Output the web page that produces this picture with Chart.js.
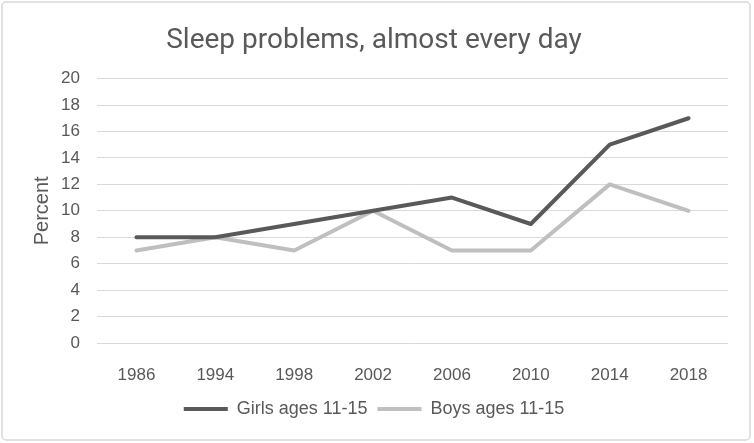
<!DOCTYPE html>
<html>
<head>
<meta charset="utf-8">
<script src="https://cdn.jsdelivr.net/npm/chart.js@4/dist/chart.umd.min.js"></script>
<style>
  html, body { margin: 0; padding: 0; background: #fff; }
  #wrap { position: relative; width: 754px; height: 443px; }
</style>
</head>
<body>
<div id="wrap"><canvas id="chart"></canvas></div>
<script>
// --- Data ---
const years = ['1986', '1994', '1998', '2002', '2006', '2010', '2014', '2018'];
const girls = [8, 8, 9, 10, 11, 9, 15, 17];
const boys = [7, 8, 7, 10, 7, 7, 12, 10];

const textColor = '#595959';
const gridColor = '#d9d9d9';
const baseFont = "'Liberation Sans', 'Noto Sans', sans-serif";

// Light rounded frame around the whole chart
const framePlugin = {
    id: 'frame',
    beforeDraw(chart) {
        const ctx = chart.ctx;
        ctx.save();
        ctx.strokeStyle = '#d9d9d9';
        ctx.lineWidth = 1.5;
        ctx.beginPath();
        ctx.roundRect(2, 2, 748, 438, 4);
        ctx.stroke();
        ctx.restore();
    }
};

new Chart(document.getElementById('chart'), {
    type: 'line',
    data: {
        labels: years,
        datasets: [
            {
                label: 'Girls ages 11-15',
                data: girls,
                borderColor: '#595959',
                backgroundColor: '#595959',
                borderWidth: 4,
                pointRadius: 0,
                tension: 0,
                borderCapStyle: 'round',
                borderJoinStyle: 'round'
            },
            {
                label: 'Boys ages 11-15',
                data: boys,
                borderColor: '#bfbfbf',
                backgroundColor: '#bfbfbf',
                borderWidth: 4,
                pointRadius: 0,
                tension: 0,
                borderCapStyle: 'round',
                borderJoinStyle: 'round'
            }
        ]
    },
    options: {
        responsive: true,
        maintainAspectRatio: false,
        animation: false,
        layout: { padding: { left: 20, right: 26, top: 0, bottom: 15 } },
        plugins: {
            title: {
                display: true,
                text: 'Sleep problems, almost every day',
                color: textColor,
                font: { family: "'Liberation Sans Narrow', 'Roboto', sans-serif", size: 28, weight: 'normal' },
                padding: { top: 24, bottom: 21 }
            },
            legend: {
                position: 'bottom',
                labels: {
                    color: textColor,
                    font: { family: baseFont, size: 18 },
                    usePointStyle: true,
                    pointStyle: 'line',
                    pointStyleWidth: 44,
                    boxWidth: 34,
                    padding: 10
                }
            },
            tooltip: { enabled: false }
        },
        scales: {
            x: {
                offset: true,
                grid: { display: false },
                border: { display: false },
                ticks: {
                    color: textColor,
                    padding: 14,
                    font: { family: baseFont, size: 17 }
                },
                afterFit(scale) { scale.height = 47; }
            },
            y: {
                min: 0,
                max: 20,
                ticks: {
                    stepSize: 2,
                    color: textColor,
                    padding: 17,
                    font: { family: baseFont, size: 17 }
                },
                grid: { color: gridColor, lineWidth: 1, drawTicks: false },
                border: { display: false },
                title: {
                    display: true,
                    text: 'Percent',
                    color: textColor,
                    font: { family: baseFont, size: 20 },
                    padding: { top: 10, bottom: 0 }
                },
                afterFit(scale) { scale.width = 77; }
            }
        }
    },
    plugins: [framePlugin]
});
</script>
</body>
</html>
